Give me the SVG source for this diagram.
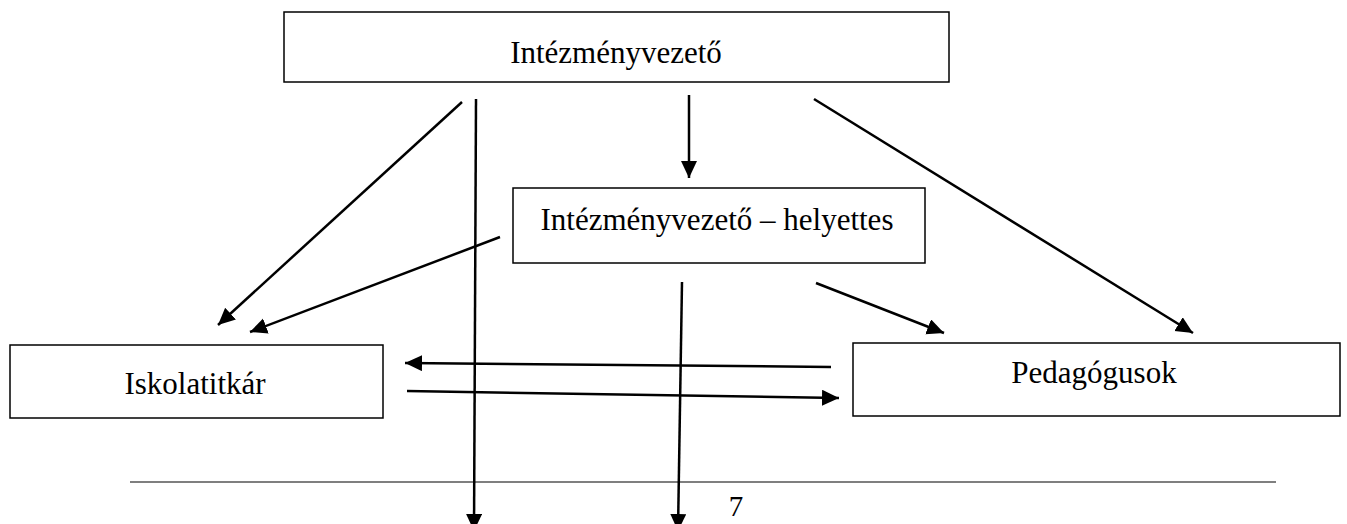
<svg xmlns="http://www.w3.org/2000/svg" width="1347" height="524" viewBox="0 0 1347 524">
  <style>
    .box { fill: #fff; stroke: #000; stroke-width: 1.5; }
    .lbl { font-family: "Liberation Serif", "Times New Roman", serif; font-size: 31px; fill: #000; text-anchor: middle; }
    .conn { stroke: #000; stroke-width: 2.5; fill: none; marker-end: url(#arr); }
  </style>
  <defs>
    <marker id="arr" markerUnits="userSpaceOnUse" markerWidth="18" markerHeight="17" refX="17" refY="8" orient="auto">
      <path d="M0,0 L17,8 L0,16 z" fill="#000"/>
    </marker>
  </defs>
  <rect width="1347" height="524" fill="#fff"/>

  <g id="node-intezmenyvezeto">
    <rect class="box" x="284" y="12" width="665" height="70"/>
    <text class="lbl" x="616" y="63">Intézményvezető</text>
  </g>
  <g id="node-helyettes">
    <rect class="box" x="513" y="188" width="412" height="75"/>
    <text class="lbl" x="717" y="230">Intézményvezető – helyettes</text>
  </g>
  <g id="node-iskolatitkar">
    <rect class="box" x="10" y="345" width="373" height="73"/>
    <text class="lbl" x="195" y="394">Iskolatitkár</text>
  </g>
  <g id="node-pedagogusok">
    <rect class="box" x="853" y="343" width="487" height="73"/>
    <text class="lbl" x="1094" y="383">Pedagógusok</text>
  </g>

  <line x1="130" y1="482" x2="1276" y2="482" stroke="#555" stroke-width="1.5"/>
  <text id="page-number" class="lbl" x="736" y="516" style="font-size: 29px;">7</text>

  <g id="connectors">
    <line class="conn" x1="689" y1="95" x2="689" y2="178"/>
    <line class="conn" x1="462" y1="102" x2="218" y2="325"/>
    <line class="conn" x1="476" y1="99" x2="474" y2="531"/>
    <line class="conn" x1="814" y1="99" x2="1193" y2="333"/>
    <line class="conn" x1="500" y1="237" x2="250" y2="332"/>
    <line class="conn" x1="682" y1="282" x2="678" y2="531"/>
    <line class="conn" x1="816" y1="283" x2="944" y2="333"/>
    <line class="conn" x1="831" y1="367" x2="405" y2="363"/>
    <line class="conn" x1="407" y1="391" x2="839" y2="398"/>
  </g>
</svg>
